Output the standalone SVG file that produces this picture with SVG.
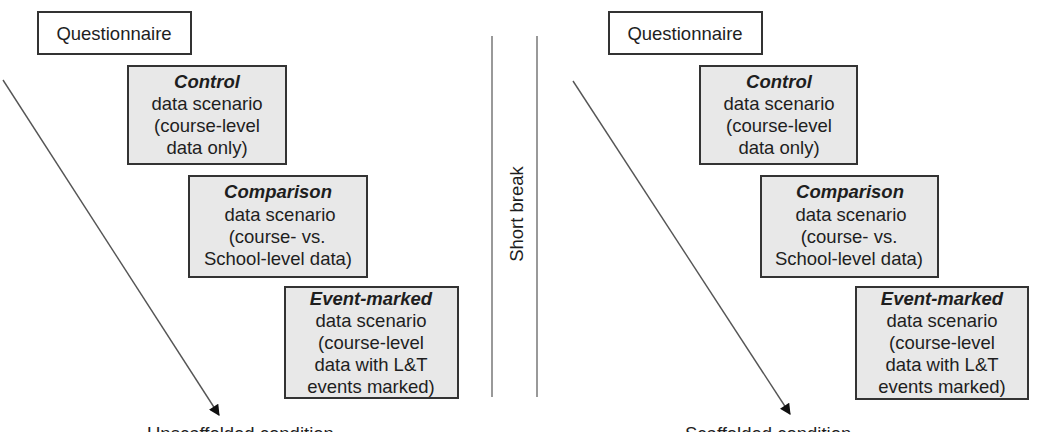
<svg xmlns="http://www.w3.org/2000/svg" width="1045" height="432" viewBox="0 0 1045 432">
<style>
.box{fill:#e8e8e8;stroke:#333;stroke-width:2}
.qbox{fill:#fff;stroke:#333;stroke-width:2}
text{font-family:"Liberation Sans",Arial,sans-serif;font-size:18.5px;fill:#1e1e1e;text-anchor:middle}
.t{font-weight:bold;font-style:italic}
.conn{stroke:#555;stroke-width:1.4;fill:none}
.brk{stroke:#999;stroke-width:2}
</style>
<defs>
<marker id="ah" viewBox="0 0 10 10" refX="9" refY="5" markerWidth="12" markerHeight="11" markerUnits="userSpaceOnUse" orient="auto">
<path d="M0,0 L10,5 L0,10 z" fill="#111"/>
</marker>
</defs>
<rect width="1045" height="432" fill="#fff"/>
<g id="connectors">
<line class="conn" x1="3" y1="80" x2="219" y2="415" marker-end="url(#ah)"/>
<line class="conn" x1="573" y1="81" x2="790" y2="414" marker-end="url(#ah)"/>
</g>
<g id="q-left"><rect class="qbox" x="38" y="12" width="153" height="42"/><text x="114" y="40">Questionnaire</text></g>
<g id="control-left"><rect class="box" x="128" y="66" width="158" height="98"/>
<text x="207" y="88" class="t">Control</text><text x="207" y="110">data scenario</text><text x="207" y="132">(course-level</text><text x="207" y="154">data only)</text></g>
<g id="comparison-left"><rect class="box" x="189" y="176" width="178" height="101"/>
<text x="278" y="198" class="t">Comparison</text><text x="280" y="221">data scenario</text><text x="277" y="243">(course- vs.</text><text x="278" y="265">School-level data)</text></g>
<g id="event-left"><rect class="box" x="285" y="287" width="173" height="111"/>
<text x="371" y="305" class="t">Event-marked</text><text x="371" y="327">data scenario</text><text x="371" y="349">(course-level</text><text x="371" y="371">data with L&amp;T</text><text x="371" y="393">events marked)</text></g>
<g id="label-left"><text x="147" y="440" style="text-anchor:start">Unscaffolded condition</text></g>
<g id="short-break">
<line class="brk" x1="492" y1="36" x2="492" y2="397"/>
<line class="brk" x1="537" y1="36" x2="537" y2="397"/>
<text transform="translate(523,214) rotate(-90)">Short break</text>
</g>
<g id="q-right"><rect class="qbox" x="609" y="12" width="153" height="42"/><text x="685" y="40">Questionnaire</text></g>
<g id="control-right"><rect class="box" x="700" y="66" width="157" height="98"/>
<text x="779" y="88" class="t">Control</text><text x="779" y="110">data scenario</text><text x="779" y="132">(course-level</text><text x="779" y="154">data only)</text></g>
<g id="comparison-right"><rect class="box" x="761" y="176" width="177" height="101"/>
<text x="850" y="198" class="t">Comparison</text><text x="851" y="221">data scenario</text><text x="849" y="243">(course- vs.</text><text x="849" y="265">School-level data)</text></g>
<g id="event-right"><rect class="box" x="856" y="287" width="172" height="112"/>
<text x="942" y="305" class="t">Event-marked</text><text x="942" y="327">data scenario</text><text x="942" y="349">(course-level</text><text x="942" y="371">data with L&amp;T</text><text x="942" y="393">events marked)</text></g>
<g id="label-right"><text x="685" y="440" style="text-anchor:start">Scaffolded condition</text></g>
</svg>
